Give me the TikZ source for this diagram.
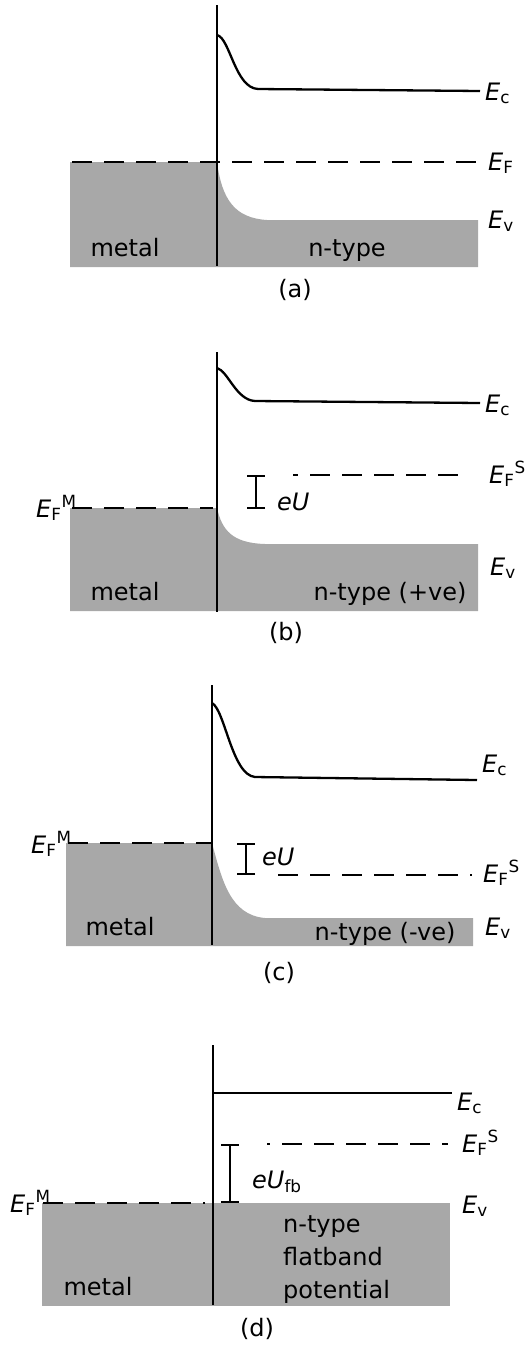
\documentclass[tikz,border=0pt]{standalone}
\usepackage{fontspec}
\setmainfont{DejaVu Sans}
\usepackage{tikz}
\usetikzlibrary{arrows.meta, positioning}
\definecolor{bandgray}{RGB}{168,168,168}
\newcommand{\lbfont}{\fontsize{24}{33}\selectfont}
\newcommand{\Ec}{\textit{E}\textsubscript{c}}
\newcommand{\Ev}{\textit{E}\textsubscript{v}}
\newcommand{\EF}{\textit{E}\textsubscript{F}}
\newcommand{\EFM}{\textit{E}\textsubscript{F}\textsuperscript{M}}
\newcommand{\EFS}{\textit{E}\textsubscript{F}\textsuperscript{S}}
\tikzset{
  bandfill/.style={fill=bandgray, draw=none},
  interface/.style={line width=2.3pt},
  bandline/.style={line width=2.3pt},
  fermiline/.style={line width=2.3pt, dash pattern=on 20pt off 12pt},
  potbar/.style={line width=2.3pt, {Bar[width=18pt]}-{Bar[width=18pt]}},
  elabel/.style={anchor=base west, inner sep=0pt, font=\lbfont},
  plabel/.style={anchor=base, inner sep=0pt, font=\lbfont}
}

\begin{document}
\begin{tikzpicture}[x=1pt, y=-1pt]
    \useasboundingbox (0,0) rectangle (526,1345);

    % (a)
    \fill [bandfill] (70,162) -- (217,162) .. controls (222,200) and (235,218) .. (267,220) -- (478,220) -- (478,267) -- (70,267) -- cycle;
    \draw [bandline] (217,35) .. controls (230,38) and (235,88) .. (258,89) -- (480,91);
    \draw [fermiline] (72,162) -- (478,162);
    \draw [interface] (217,5) -- (217,266);
    \node (ecA) [elabel] at (485,100) {\Ec};
    \node (efA) [elabel] at (488,170) {\EF};
    \node (evA) [elabel] at (488,228) {\Ev};
    \node (metalA) [plabel] at (125,256) {metal};
    \node (semiA) [plabel] at (347,256) {n-type};
    \node (capA) [plabel] at (295,297) {(a)};

    % (b)
    \fill [bandfill] (70,508) -- (217,508) .. controls (222,530) and (232,543) .. (265,544) -- (478,544) -- (478,611) -- (70,611) -- cycle;
    \draw [bandline] (217,368) .. controls (228,371) and (236,400) .. (255,401) -- (480,403);
    \draw [fermiline] (72,508) -- (213,508);
    \draw [fermiline, dash phase=15pt] (293,475) -- (467,475);
    \draw [interface] (217,352) -- (217,612);
    \coordinate (topB) at (256,475);
    \coordinate (botB) at (256,509);
    \draw [potbar] (topB) -- (botB);
    \node (efmB) [elabel] at (36,517) {\EFM};
    \node (euB) [elabel] at (277,510) {\textit{eU}};
    \node (efsB) [elabel] at (489,483) {\EFS};
    \node (ecB) [elabel] at (485,412) {\Ec};
    \node (evB) [elabel] at (490,575) {\Ev};
    \node (metalB) [plabel] at (125,600) {metal};
    \node (semiB) [plabel] at (390,600) {n-type (+ve)};
    \node (capB) [plabel] at (286,640) {(b)};

    % (c)
    \fill [bandfill] (66,843) -- (212,843) .. controls (222,880) and (230,915) .. (265,918) -- (473,918) -- (473,946) -- (66,946) -- cycle;
    \draw [bandline] (212,703) .. controls (225,710) and (232,775) .. (255,777) -- (477,780);
    \draw [fermiline] (68,843) -- (212,843);
    \draw [fermiline] (278,875) -- (472,875);
    \draw [interface] (212,685) -- (212,945);
    \coordinate (topC) at (246,843);
    \coordinate (botC) at (246,875);
    \draw [potbar] (topC) -- (botC);
    \node (efmC) [elabel] at (31,853) {\EFM};
    \node (euC) [elabel] at (262,865) {\textit{eU}};
    \node (efsC) [elabel] at (483,882) {\EFS};
    \node (ecC) [elabel] at (482,772) {\Ec};
    \node (evC) [elabel] at (485,935) {\Ev};
    \node (metalC) [plabel] at (120,935) {metal};
    \node (semiC) [plabel] at (385,940) {n-type (-ve)};
    \node (capC) [plabel] at (279,980) {(c)};

    % (d)
    \fill [bandfill] (42,1203) rectangle (450,1306);
    \draw [bandline] (213,1093) -- (452,1093);
    \draw [fermiline] (43,1203) -- (205,1203);
    \draw [fermiline, dash phase=17pt] (267,1144) -- (448,1144);
    \draw [interface] (213,1045) -- (213,1305);
    \coordinate (topD) at (230,1144);
    \coordinate (botD) at (230,1203);
    \draw [potbar] (topD) -- (botD);
    \node (efmD) [elabel] at (10,1212) {\EFM};
    \node (euD) [elabel] at (252,1188) {\textit{eU}\textsubscript{fb}};
    \node (efsD) [elabel] at (462,1152) {\EFS};
    \node (ecD) [elabel] at (457,1110) {\Ec};
    \node (evD) [elabel] at (462,1213) {\Ev};
    \node (semiD) [elabel, align=left] at (283,1298) {n-type\\flatband\\potential};
    \node (metalD) [plabel] at (98,1295) {metal};
    \node (capD) [plabel] at (257,1336) {(d)};
\end{tikzpicture}
\end{document}
